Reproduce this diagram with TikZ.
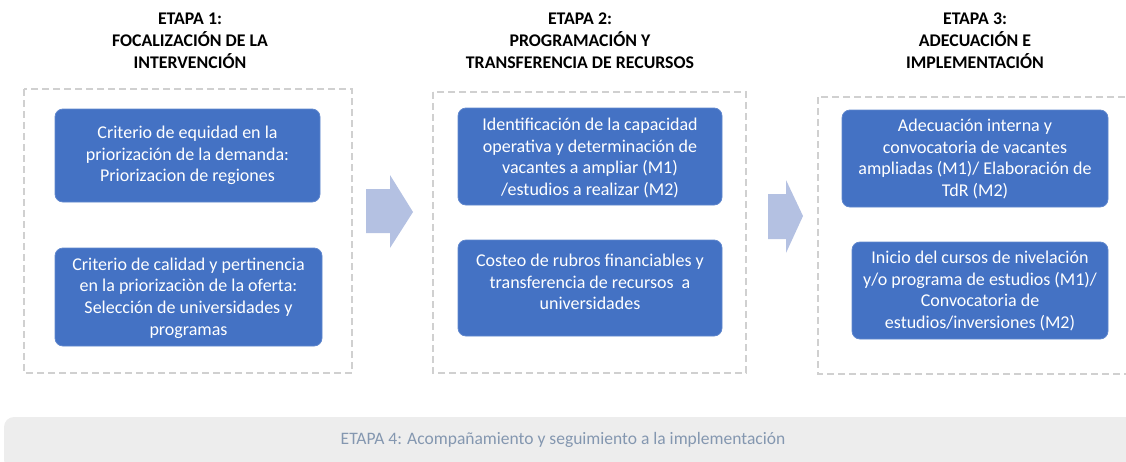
\documentclass[tikz,border=0pt]{standalone}
\usepackage{fontspec}
\setmainfont{Carlito}
\definecolor{boxblue}{HTML}{4472C4}
\definecolor{arrowfill}{HTML}{B4C1E2}
\definecolor{dashgray}{HTML}{D0D0D0}
\definecolor{bandgray}{HTML}{EDEDED}
\definecolor{bandtext}{HTML}{8497B0}
\begin{document}
\begin{tikzpicture}[x=1pt,y=-1pt,
  stagebox/.style={draw=boxblue!85!white,line width=0.8pt,fill=boxblue,rounded corners=8pt},
  boxtext/.style={text=white,align=center,font=\fontsize{18}{21.6}\selectfont,inner sep=0pt},
  titletext/.style={align=center,font=\fontsize{17.8}{22}\selectfont\bfseries,text=black},
  dashframe/.style={draw=dashgray,line width=1.2pt,dash pattern=on 7pt off 4pt},
  bigarrow/.style={fill=arrowfill,draw=none}]
\useasboundingbox (0,0) rectangle (1126,461);
% titles
\node[titletext] (t1) at (190,41) {ETAPA 1:\\FOCALIZACIÓN DE LA\\INTERVENCIÓN};
\node[titletext] (t2) at (580,41) {ETAPA 2:\\PROGRAMACIÓN Y\\TRANSFERENCIA DE RECURSOS};
\node[titletext] (t3) at (975,41) {ETAPA 3:\\ADECUACIÓN E\\IMPLEMENTACIÓN};
% dashed frames
\draw[dashframe] (24,89) rectangle (352,373);
\draw[dashframe] (433,92) rectangle (746,373);
\draw[dashframe] (818,97) rectangle (1140,374);
% boxes stage 1
\path[stagebox] (55,109) rectangle (320,202);
\node[boxtext] (b1a) at (187.5,155.5) {Criterio de equidad en la\\priorización de la demanda:\\Priorizacion de regiones};
\path[stagebox] (55,248) rectangle (322,346);
\node[boxtext] (b1b) at (188.5,298) {Criterio de calidad y pertinencia\\en la priorizaciòn de la oferta:\\Selección de universidades y\\programas};
% boxes stage 2
\path[stagebox] (458,108) rectangle (722,205);
\node[boxtext] (b2a) at (590,158) {Identificación de la capacidad\\operativa y determinación de\\vacantes a ampliar (M1)\\/estudios a realizar (M2)};
\path[stagebox] (458,240) rectangle (722,336);
\node[boxtext] (b2b) at (590,282) {Costeo de rubros financiables y\\transferencia de recursos\ \ a\\universidades};
% boxes stage 3
\path[stagebox] (842,110) rectangle (1108,207);
\node[boxtext] (b3a) at (975,159) {Adecuación interna y\\convocatoria de vacantes\\ampliadas (M1)/ Elaboración de\\TdR (M2)};
\path[stagebox] (852,242) rectangle (1108,339);
\node[boxtext] (b3b) at (980,291) {Inicio del cursos de nivelación\\y/o programa de estudios (M1)/\\Convocatoria de\\estudios/inversiones (M2)};
% block arrows
\fill[bigarrow] (366,189) -- (390,189) -- (390,175) -- (413,212) -- (390,248) -- (390,233) -- (366,233) -- cycle;
\fill[bigarrow] (768,194) -- (786,194) -- (786,180) -- (803,216) -- (786,253) -- (786,239) -- (768,239) -- cycle;
% bottom band
\fill[bandgray,rounded corners=10pt] (4,470) -- (4,417) -- (1140,417) -- (1140,470) -- cycle;
\node[text=bandtext,font=\fontsize{17.5}{20}\selectfont] (b4) at (563,440) {ETAPA 4: Acompañamiento y seguimiento a la implementación};
\end{tikzpicture}
\end{document}
